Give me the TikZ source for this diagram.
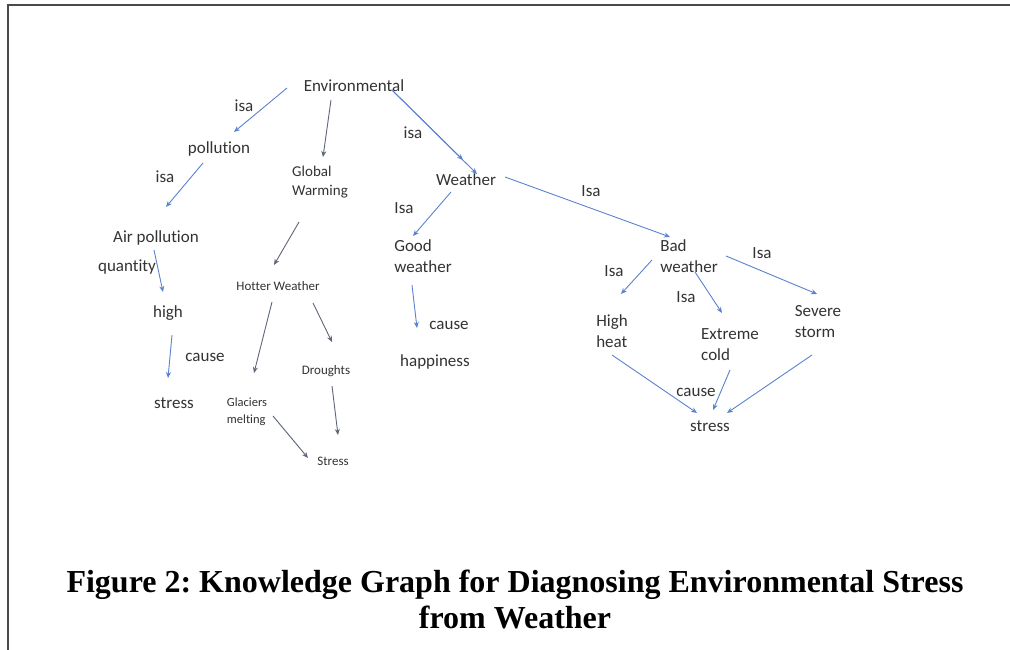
\documentclass[tikz,border=0pt]{standalone}
\usepackage{fontspec}
\setmainfont{Carlito}[Ligatures=NoCommon]
\newfontfamily\capfont{Liberation Serif}
\usetikzlibrary{arrows.meta}
\frenchspacing
\definecolor{linkblue}{HTML}{5B82CF}
\definecolor{linkgray}{HTML}{5E6678}
\definecolor{txtgray}{HTML}{333333}
\definecolor{framegray}{HTML}{4A4A4A}
\tikzset{
  concept/.style={inner sep=0pt, text=txtgray, font=\fontsize{17}{21}\selectfont, align=left},
  midconcept/.style={concept, font=\fontsize{15}{19}\selectfont},
  smallconcept/.style={concept, font=\fontsize{13}{16}\selectfont},
  tinyconcept/.style={concept, font=\fontsize{12.5}{17}\selectfont},
  rel/.style={inner sep=0pt, text=txtgray, font=\fontsize{17}{21}\selectfont},
  link/.style={draw=linkblue, line width=0.9pt, -{Stealth[length=6pt,width=5pt]}},
  graylink/.style={link, draw=linkgray},
}
\begin{document}
\begin{tikzpicture}[x=1pt, y=-1pt]
\useasboundingbox (0,0) rectangle (1010,650);
\fill[white] (0,0) rectangle (1010,650);
% frame: top and left edges
\draw[framegray, line width=2pt] (7.7,650) -- (7.7,5) -- (1010,5);

% concepts
\node[concept] (env) at (354,86) {Environmental};
\node[concept] (pol) at (219,149) {pollution};
\node[midconcept] (gw) at (320,182) {Global\\Warming};
\node[concept] (wea) at (466,180) {Weather};
\node[concept] (air) at (156,238) {Air pollution};
\node[concept] (high) at (168,313) {high};
\node[concept] (stressA) at (174,403) {stress};
\node[smallconcept] (hot) at (278,286) {Hotter Weather};
\node[smallconcept] (dro) at (326,371) {Droughts};
\node[tinyconcept] (gla) at (247,412) {Glaciers\\melting};
\node[smallconcept] (stressB) at (333,461) {Stress};
\node[concept] (good) at (423,256) {Good\\weather};
\node[concept] (hap) at (435,362) {happiness};
\node[concept] (bad) at (689,256) {Bad\\weather};
\node[concept] (heat) at (612,331) {High\\heat};
\node[concept] (cold) at (730,345) {Extreme\\cold};
\node[concept] (storm) at (818,322) {Severe\\storm};
\node[concept] (stressC) at (710,426) {stress};

% relation labels
\node[rel] (r1) at (244,106) {isa};
\node[rel] (r2) at (165,177) {isa};
\node[rel] (r3) at (413,133) {isa};
\node[rel] (r4) at (404,208) {Isa};
\node[rel] (r5) at (591,191) {Isa};
\node[rel] (r6) at (614,271) {Isa};
\node[rel] (r7) at (686,297) {Isa};
\node[rel] (r8) at (762,253) {Isa};
\node[rel] (r9) at (127,267) {quantity};
\node[rel] (r10) at (205,357) {cause};
\node[rel] (r11) at (449,325) {cause};
\node[rel] (r12) at (696,392) {cause};

% connector ports
\coordinate (env-sw) at (287,88);
\coordinate (env-s) at (331,100);
\coordinate (env-se) at (392,90);
\coordinate (pol-in) at (234,132);
\coordinate (pol-out) at (203,163);
\coordinate (gw-in) at (323,157);
\coordinate (gw-out) at (299,222);
\coordinate (wea-in) at (477,174);
\coordinate (wea-in2) at (463,160);
\coordinate (wea-sw) at (451,192);
\coordinate (wea-e) at (505,177);
\coordinate (air-in) at (166,207);
\coordinate (air-out) at (154,250);
\coordinate (high-in) at (163,292);
\coordinate (high-out) at (172,335);
\coordinate (stressA-in) at (168,378);
\coordinate (hot-in) at (274,265);
\coordinate (hot-sw) at (272,302);
\coordinate (hot-se) at (313,303);
\coordinate (gla-in) at (254,373);
\coordinate (gla-out) at (273,416);
\coordinate (dro-in) at (332,342);
\coordinate (dro-out) at (332,386);
\coordinate (stressB-w) at (308,458);
\coordinate (stressB-n) at (338,435);
\coordinate (good-in) at (413,236);
\coordinate (good-out) at (412,285);
\coordinate (hap-in) at (417,328);
\coordinate (bad-in) at (670,237);
\coordinate (bad-sw) at (652,260);
\coordinate (bad-s) at (695,272);
\coordinate (bad-e) at (726,256);
\coordinate (heat-in) at (621,294);
\coordinate (heat-out) at (612,355);
\coordinate (cold-in) at (722,313);
\coordinate (cold-out) at (730,370);
\coordinate (storm-in) at (817,294);
\coordinate (storm-out) at (812,355);
\coordinate (stressC-w) at (697,413);
\coordinate (stressC-n) at (713,410);
\coordinate (stressC-e) at (727,413);

% connectors
\draw[link] (env-sw) -- (pol-in);
\draw[graylink] (env-s) -- (gw-in);
\draw[link] (env-se) -- (wea-in2);
\draw[link] (env-se) -- (wea-in);
\draw[link] (pol-out) -- (air-in);
\draw[link] (air-out) -- (high-in);
\draw[link] (high-out) -- (stressA-in);
\draw[graylink] (gw-out) -- (hot-in);
\draw[graylink] (hot-sw) -- (gla-in);
\draw[graylink] (hot-se) -- (dro-in);
\draw[graylink] (dro-out) -- (stressB-n);
\draw[graylink] (gla-out) -- (stressB-w);
\draw[link] (wea-sw) -- (good-in);
\draw[link] (wea-e) -- (bad-in);
\draw[link] (good-out) -- (hap-in);
\draw[link] (bad-sw) -- (heat-in);
\draw[link] (bad-s) -- (cold-in);
\draw[link] (bad-e) -- (storm-in);
\draw[link] (heat-out) -- (stressC-w);
\draw[link] (cold-out) -- (stressC-n);
\draw[link] (storm-out) -- (stressC-e);

% caption
\node[inner sep=0pt, align=center, font=\capfont\bfseries\fontsize{32}{36}\selectfont] (cap) at (515,599)
  {Figure 2: Knowledge Graph for Diagnosing Environmental Stress\\from Weather};
\end{tikzpicture}
\end{document}
